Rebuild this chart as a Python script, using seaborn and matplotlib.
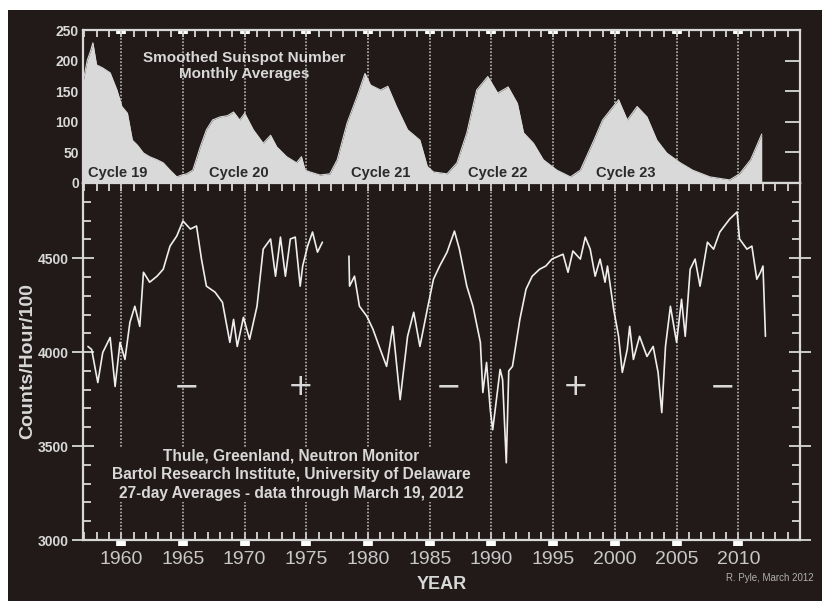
import matplotlib
matplotlib.use("Agg")
import matplotlib.pyplot as plt
from matplotlib.patches import Rectangle
from matplotlib.ticker import MultipleLocator
import pandas as pd
import seaborn as sns

# smoothed sunspot number, monthly averages
ss_year = [1956.9, 1957.25, 1957.5, 1957.7, 1958.0, 1958.5, 1959.1, 1959.65, 1960.05,
           1960.5, 1960.9, 1961.3, 1961.8, 1962.3, 1962.9, 1963.4, 1963.95, 1964.5,
           1964.9, 1965.3, 1965.8, 1966.4, 1966.9, 1967.4, 1968.0, 1968.6, 1969.1,
           1969.6, 1970.0, 1970.7, 1971.5, 1972.1, 1972.6, 1973.4, 1974.2, 1974.6,
           1974.9, 1975.3, 1976.1, 1976.9, 1977.5, 1978.3, 1979.1, 1979.75, 1980.2,
           1981.0, 1981.6, 1982.3, 1983.2, 1984.2, 1984.8, 1985.3, 1986.4, 1987.2,
           1988.0, 1988.8, 1989.7, 1990.5, 1991.35, 1992.1, 1992.6, 1993.4, 1994.2,
           1995.3, 1996.4, 1997.2, 1998.3, 1999.0, 2000.3, 2001.0, 2001.8, 2002.6,
           2003.4, 2004.2, 2005.3, 2006.3, 2007.7, 2009.3, 2010.1, 2011.0, 2011.9]
ss_value = [165, 201, 215, 229, 193, 188, 180, 152, 125,
            114, 70, 62, 49, 43, 38, 33, 21, 10,
            13, 15, 21, 59, 87, 103, 108, 110, 116,
            103, 114, 87, 65, 78, 59, 43, 33, 43,
            21, 18, 13, 15, 38, 98, 141, 179, 160,
            152, 158, 125, 87, 70, 27, 18, 15, 33,
            82, 152, 174, 147, 157, 130, 82, 65, 38,
            21, 10, 21, 70, 103, 136, 103, 125, 108,
            70, 49, 33, 21, 10, 5, 15, 38, 80]

# Thule neutron monitor, 27-day averages, first run (to 1976)
nm1_year = [1957.3, 1957.6, 1958.1, 1958.5, 1959.1, 1959.5, 1959.9, 1960.3, 1960.7,
            1961.1, 1961.5, 1961.8, 1962.3, 1962.9, 1963.4, 1963.95, 1964.5, 1965.0,
            1965.6, 1966.1, 1966.5, 1966.9, 1967.6, 1968.2, 1968.8, 1969.1, 1969.4,
            1969.9, 1970.4, 1971.0, 1971.5, 1972.1, 1972.5, 1972.9, 1973.3, 1973.7,
            1974.1, 1974.5, 1974.7, 1975.1, 1975.5, 1975.9, 1976.3]
nm1_value = [4030, 4014, 3838, 3998, 4078, 3817, 4052, 3961, 4158,
             4244, 4137, 4425, 4372, 4404, 4441, 4564, 4618, 4698,
             4655, 4671, 4495, 4351, 4319, 4265, 4052, 4174, 4030,
             4185, 4068, 4244, 4548, 4602, 4404, 4612, 4404, 4602,
             4612, 4351, 4458, 4564, 4639, 4532, 4585]

# second run (1978 to March 2012)
nm2_year = [1978.45, 1978.5, 1978.9, 1979.3, 1979.9, 1980.4, 1980.9, 1981.5, 1982.0,
            1982.6, 1983.2, 1983.7, 1984.2, 1984.8, 1985.3, 1985.8, 1986.4, 1987.0,
            1987.4, 1988.0, 1988.5, 1989.1, 1989.3, 1989.6, 1989.9, 1990.1, 1990.7,
            1990.9, 1991.2, 1991.4, 1991.7, 1992.3, 1992.8, 1993.3, 1993.9, 1994.4,
            1994.9, 1995.8, 1996.2, 1996.6, 1997.2, 1997.6, 1998.0, 1998.4, 1998.8,
            1999.2, 1999.4, 1999.9, 2000.3, 2000.6, 2001.0, 2001.2, 2001.5, 2002.0,
            2002.6, 2003.1, 2003.5, 2003.8, 2004.1, 2004.5, 2005.0, 2005.4, 2005.7,
            2006.1, 2006.5, 2006.9, 2007.5, 2008.0, 2008.5, 2009.3, 2009.9, 2010.1,
            2010.7, 2011.1, 2011.5, 2011.8, 2012.0, 2012.2]
nm2_value = [4511, 4351, 4404, 4244, 4191, 4121, 4030, 3924, 4137,
             3747, 4084, 4212, 4030, 4228, 4388, 4458, 4532, 4644,
             4548, 4351, 4244, 4052, 3785, 3945, 3694, 3587, 3908,
             3854, 3411, 3900, 3924, 4174, 4335, 4404, 4441, 4458,
             4495, 4521, 4425, 4538, 4495, 4612, 4548, 4404, 4495,
             4372, 4458, 4228, 4084, 3892, 4014, 4137, 3961, 4084,
             3977, 4030, 3892, 3678, 4030, 4244, 4052, 4281, 4084,
             4441, 4495, 4351, 4585, 4548, 4639, 4708, 4746, 4602,
             4548, 4564, 4388, 4425, 4458, 4084]

cycle_names = ["Cycle 19", "Cycle 20", "Cycle 21", "Cycle 22", "Cycle 23"]
cycle_year = [1959.7, 1969.5, 1981.05, 1990.5, 2000.9]

polarity_sign = ["\u2212", "+", "\u2212", "+", "\u2212"]
polarity_year = [1965.25, 1974.5, 1986.55, 1996.8, 2008.7]

bg = "#211a18"
fg = "#d8d8d8"

sns.set_theme(style="dark")
plt.rcParams["font.family"] = ["Liberation Sans", "DejaVu Sans"]

fig = plt.figure(figsize=(8.22, 6.01), dpi=100, facecolor="white")
fig.patches.append(Rectangle((8 / 822, 0), 1, 1 - 10 / 601, transform=fig.transFigure,
                             facecolor=bg, edgecolor="none", zorder=-5))

ax1 = fig.add_axes([83 / 822, 1 - 183 / 601, 717 / 822, 153 / 601])
ax2 = fig.add_axes([83 / 822, 1 - 540 / 601, 717 / 822, 357 / 601])

x_lo, x_hi = 1956.9, 2015.0
five_years = list(range(1960, 2015, 5))

for ax in (ax1, ax2):
    ax.set_facecolor(bg)
    ax.grid(False)
    ax.set_xlim(x_lo, x_hi)
    for s in ax.spines.values():
        s.set_color(fg)
        s.set_linewidth(1.6)
    ax.set_xticks(five_years)
    ax.xaxis.set_minor_locator(MultipleLocator(1))
    ax.xaxis.remove_overlapping_locs = False
    for yr in five_years:
        ax.axvline(yr, color="#b4b4b4", lw=1.2, ls=(0, (1, 1)), zorder=1)

# ---- top panel: sunspots
ss = pd.DataFrame({"year": ss_year, "ssn": ss_value})
ax1.fill_between(ss["year"], 0, ss["ssn"], color="#d9d9d9", lw=0, zorder=2)
sns.lineplot(data=ss, x="year", y="ssn", ax=ax1, color="#d9d9d9", lw=0.8, zorder=2)
ax1.set_ylim(0, 250)
ax1.set_yticks(range(0, 251, 50))
ax1.tick_params(axis="y", which="major", left=False, right=True, direction="in",
                length=11, width=1.3, color=fg, labelsize=10, labelcolor=fg, pad=3)
for lab in ax1.get_yticklabels():
    lab.set_fontweight("bold")
ax1.tick_params(axis="x", which="major", bottom=False, top=True, direction="in",
                length=3, width=7, color="white", labelbottom=False)
ax1.tick_params(axis="x", which="minor", bottom=False, top=True, direction="in",
                length=5, width=1.3, color=fg)
ax1.set_xlabel("")
ax1.set_ylabel("")

ax1.text(1970.0, 191, "Smoothed Sunspot Number\nMonthly Averages", ha="center",
         va="center", color=fg, fontsize=11, fontweight="bold", linespacing=1.2,
         zorder=5)
for name, yr in zip(cycle_names, cycle_year):
    ax1.text(yr, 17, name, ha="center", va="center", color="#2a2a2a", fontsize=10.5,
             fontweight="bold", zorder=5)

# ---- bottom panel: neutron monitor
nm = pd.concat([
    pd.DataFrame({"year": nm1_year, "counts": nm1_value, "run": 1}),
    pd.DataFrame({"year": nm2_year, "counts": nm2_value, "run": 2}),
])
sns.lineplot(data=nm, x="year", y="counts", units="run", estimator=None, ax=ax2,
             color="#eeeeee", lw=1.2, zorder=3)
ax2.set_ylim(3000, 4900)
ax2.set_yticks([3000, 3500, 4000, 4500])
ax2.yaxis.set_minor_locator(MultipleLocator(100))
ax2.tick_params(axis="y", which="major", left=True, right=True, direction="inout",
                length=16, width=1.3, color=fg, labelsize=10, labelcolor=fg, pad=2)
ax2.tick_params(axis="y", which="minor", left=True, right=True, direction="in",
                length=6, width=1.3, color=fg)
for lab in ax2.get_yticklabels():
    lab.set_fontweight("bold")
ax2.tick_params(axis="x", which="major", bottom=True, top=False, direction="out",
                length=4, width=7, color="white", labelsize=14, labelcolor="#c8c8c8",
                pad=4)
ax2.tick_params(axis="x", which="minor", bottom=True, top=True, direction="in",
                length=6, width=1.3, color=fg)
ax2.set_xlabel("YEAR", color=fg, fontsize=13, fontweight="bold", labelpad=6)
ax2.set_ylabel("Counts/Hour/100", color=fg, fontsize=14, fontweight="bold",
               labelpad=1)

for sign, yr in zip(polarity_sign, polarity_year):
    ax2.text(yr, 3817, sign, ha="center", va="center", color=fg, fontsize=22,
             fontfamily="DejaVu Sans", zorder=5)

ax2.text(1973.75, 3347,
         "Thule, Greenland, Neutron Monitor\n"
         "Bartol Research Institute, University of Delaware\n"
         "27-day Averages - data through March 19, 2012",
         ha="center", va="center", color=fg, fontsize=11.2, fontweight="bold",
         linespacing=1.3, zorder=5,
         bbox=dict(facecolor=bg, edgecolor="none", pad=1))

fig.text(770 / 822, 1 - 578 / 601, "R. Pyle, March 2012", ha="center", va="center",
         color="#b0b0b0", fontsize=7)

fig.savefig("out.png", dpi=100, facecolor="white")
